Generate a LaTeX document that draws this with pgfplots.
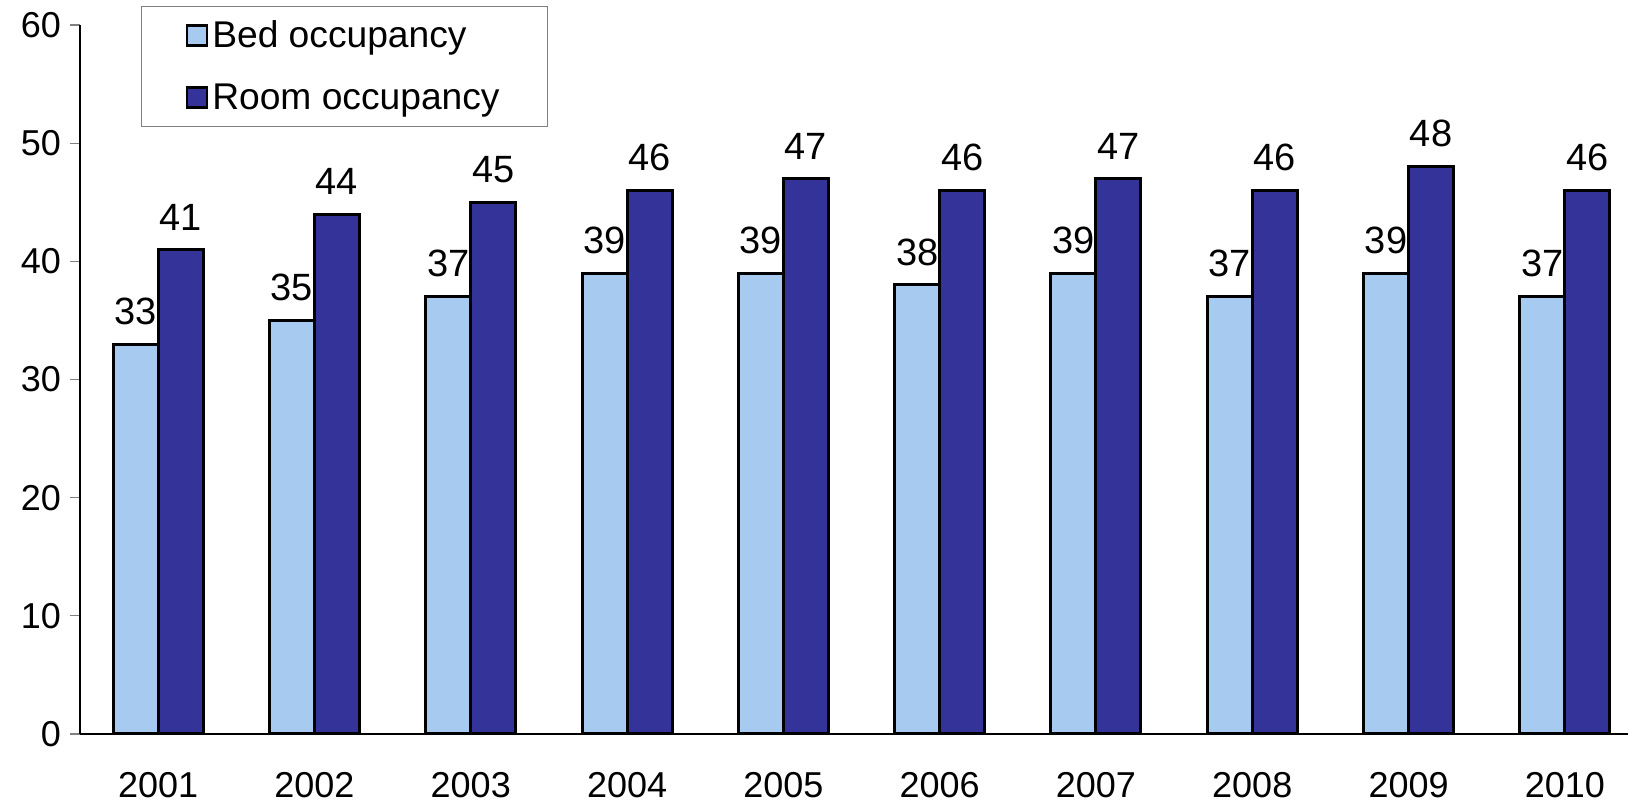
\documentclass[border=0pt]{standalone}
\usepackage{pgfplots}
\pgfplotsset{compat=1.18}
\usepackage{fontspec}
\setmainfont{Liberation Sans}
\definecolor{bedc}{HTML}{A6CAF0}
\definecolor{roomc}{HTML}{333399}
\begin{document}
\begin{tikzpicture}
\begin{axis}[
  scale only axis,
  width=774pt, height=354.5pt,
  at={(0,0)}, anchor=south west,
  xmin=-0.5, xmax=9.404,
  ymin=0, ymax=60,
  axis x line*=bottom, axis y line*=left,
  axis line style={black, line width=0.6pt},
  ybar=0pt, bar width=22.5pt,
  ytick={0,10,...,60},
  ytick style={gray, line width=0.6pt},
  tick align=outside,
  major tick length=5pt,
  xtick={0,...,9},
  xticklabels={2001,2002,2003,2004,2005,2006,2007,2008,2009,2010},
  xtick style={draw=none},
  extra x ticks={-0.5,0.5,...,8.5},
  extra x tick labels={},
  extra x tick style={tick style={gray, line width=0.6pt}},
  /pgf/number format/assume math mode=true,
  yticklabel style={font=\fontsize{18pt}{21pt}\selectfont, xshift=-1pt},
  xticklabel style={font=\fontsize{18pt}{21pt}\selectfont, yshift=-10.5pt},
  nodes near coords,
  every node near coord/.append style={font=\fontsize{19pt}{22pt}\selectfont, inner sep=0pt, yshift=9pt, black},
  legend style={at={(0.0395,1.0268)}, anchor=north west, draw=gray, line width=0.5pt,
    font=\fontsize{18.6pt}{22pt}\selectfont, inner xsep=22pt, inner ysep=5pt, row sep=12.5pt,
    cells={anchor=west}},
  legend image code/.code={\draw[#1, line width=1.3pt] (0pt,-5pt) rectangle (10pt,5pt);},
  enlarge x limits=false,
  clip=false,
]
\addplot[draw=black, line width=1.5pt, fill=bedc] coordinates {(0,33) (1,35) (2,37) (3,39) (4,39) (5,38) (6,39) (7,37) (8,39) (9,37)};
\addplot[draw=black, line width=1.5pt, fill=roomc] coordinates {(0,41) (1,44) (2,45) (3,46) (4,47) (5,46) (6,47) (7,46) (8,48) (9,46)};
\legend{Bed occupancy, Room occupancy}
\end{axis}
\pgfresetboundingbox
\useasboundingbox (-40pt,-36pt) rectangle (774pt,367pt);
\end{tikzpicture}
\end{document}
